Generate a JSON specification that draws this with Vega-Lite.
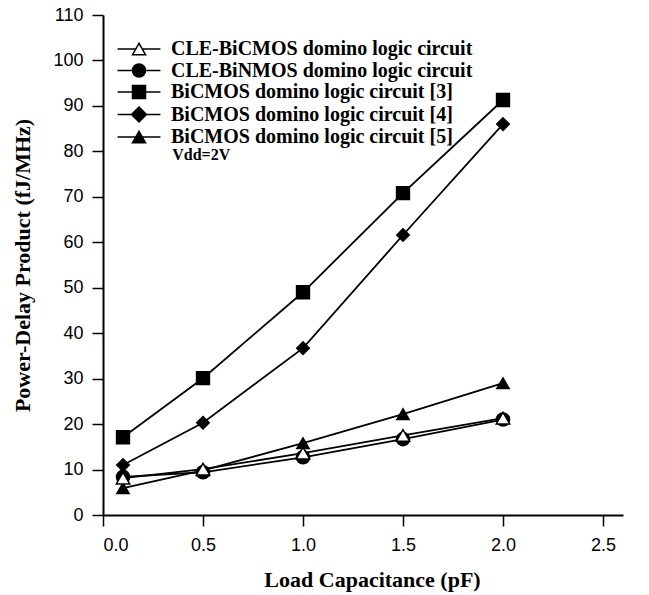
{
  "$schema": "https://vega.github.io/schema/vega-lite/v6.json",
  "width": 520,
  "height": 500,
  "autosize": {"type": "none"},
  "padding": {"left": 103, "top": 15, "right": 26, "bottom": 80},
  "background": "white",
  "config": {
    "view": {"stroke": null},
    "axis": {
      "domainColor": "black", "domainWidth": 2,
      "tickColor": "black", "tickWidth": 1.5, "tickSize": 11,
      "labelColor": "black", "labelFont": "Liberation Sans", "labelFontSize": 18,
      "titleFont": "Liberation Serif", "titleFontWeight": "bold", "titleFontSize": 22, "titleColor": "black",
      "grid": false
    },
    "legend": {
      "title": null, "orient": "none", "legendX": 26, "legendY": 24,
      "labelFont": "Liberation Serif", "labelFontWeight": "bold", "labelFontSize": 20, "labelColor": "black",
      "symbolSize": 169, "symbolStrokeWidth": 1.5, "labelOffset": 22, "rowPadding": 1.5,
      "padding": 0, "symbolOpacity": 1, "labelLimit": 400
    }
  },
  "datasets": {
    "pts": [
      {"series": "BiCMOS domino logic circuit [3]", "x": 0.1, "y": 17.1},
      {"series": "BiCMOS domino logic circuit [3]", "x": 0.5, "y": 30.1},
      {"series": "BiCMOS domino logic circuit [3]", "x": 1.0, "y": 49.0},
      {"series": "BiCMOS domino logic circuit [3]", "x": 1.5, "y": 70.8},
      {"series": "BiCMOS domino logic circuit [3]", "x": 2.0, "y": 91.3},
      {"series": "BiCMOS domino logic circuit [4]", "x": 0.1, "y": 11.0},
      {"series": "BiCMOS domino logic circuit [4]", "x": 0.5, "y": 20.3},
      {"series": "BiCMOS domino logic circuit [4]", "x": 1.0, "y": 36.7},
      {"series": "BiCMOS domino logic circuit [4]", "x": 1.5, "y": 61.6},
      {"series": "BiCMOS domino logic circuit [4]", "x": 2.0, "y": 86.0},
      {"series": "BiCMOS domino logic circuit [5]", "x": 0.1, "y": 5.9},
      {"series": "BiCMOS domino logic circuit [5]", "x": 0.5, "y": 9.8},
      {"series": "BiCMOS domino logic circuit [5]", "x": 1.0, "y": 15.8},
      {"series": "BiCMOS domino logic circuit [5]", "x": 1.5, "y": 22.2},
      {"series": "BiCMOS domino logic circuit [5]", "x": 2.0, "y": 29.0},
      {"series": "CLE-BiNMOS domino logic circuit", "x": 0.1, "y": 8.4},
      {"series": "CLE-BiNMOS domino logic circuit", "x": 0.5, "y": 9.4},
      {"series": "CLE-BiNMOS domino logic circuit", "x": 1.0, "y": 12.7},
      {"series": "CLE-BiNMOS domino logic circuit", "x": 1.5, "y": 16.7},
      {"series": "CLE-BiNMOS domino logic circuit", "x": 2.0, "y": 21.0},
      {"series": "CLE-BiCMOS domino logic circuit", "x": 0.1, "y": 8.1},
      {"series": "CLE-BiCMOS domino logic circuit", "x": 0.5, "y": 10.1},
      {"series": "CLE-BiCMOS domino logic circuit", "x": 1.0, "y": 13.6},
      {"series": "CLE-BiCMOS domino logic circuit", "x": 1.5, "y": 17.5},
      {"series": "CLE-BiCMOS domino logic circuit", "x": 2.0, "y": 21.3}
    ],
    "notes": [{"x": 0.346, "y": 79.2, "label": "Vdd=2V"}]
  },
  "layer": [
    {
      "data": {"name": "pts"},
      "mark": {"type": "line", "color": "black", "strokeWidth": 1.8},
      "encoding": {
        "x": {"field": "x", "type": "quantitative", "scale": {"domain": [0, 2.5]},
              "axis": {"values": [0, 0.5, 1, 1.5, 2, 2.5], "format": ".1f", "title": "Load Capacitance (pF)", "labelPadding": 10, "titleX": 269, "titleY": 64, "titleBaseline": "middle"}},
        "y": {"field": "y", "type": "quantitative", "scale": {"domain": [0, 110]},
              "axis": {"values": [0, 10, 20, 30, 40, 50, 60, 70, 80, 90, 100, 110], "title": "Power-Delay Product (fJ/MHz)", "labelPadding": 9, "titleX": -81, "titleY": 250, "titleAngle": -90, "titleBaseline": "middle", "titleAlign": "center"}},
        "detail": {"field": "series"},
        "order": {"field": "x", "type": "quantitative"}
      }
    },
    {
      "data": {"name": "pts"},
      "mark": {"type": "point", "filled": true, "stroke": "black", "strokeWidth": 1.5, "opacity": 1},
      "encoding": {
        "x": {"field": "x", "type": "quantitative"},
        "y": {"field": "y", "type": "quantitative"},
        "shape": {"field": "series", "scale": {"domain": ["CLE-BiCMOS domino logic circuit", "CLE-BiNMOS domino logic circuit", "BiCMOS domino logic circuit [3]", "BiCMOS domino logic circuit [4]", "BiCMOS domino logic circuit [5]"], "range": ["triangle-up", "circle", "square", "diamond", "triangle-up"]}, "legend": null},
        "fill": {"field": "series", "scale": {"domain": ["CLE-BiCMOS domino logic circuit", "CLE-BiNMOS domino logic circuit", "BiCMOS domino logic circuit [3]", "BiCMOS domino logic circuit [4]", "BiCMOS domino logic circuit [5]"], "range": ["white", "black", "black", "black", "black"]}, "legend": null},
        "size": {"field": "series", "scale": {"domain": ["CLE-BiCMOS domino logic circuit", "CLE-BiNMOS domino logic circuit", "BiCMOS domino logic circuit [3]", "BiCMOS domino logic circuit [4]", "BiCMOS domino logic circuit [5]"], "range": [180, 150, 160, 225, 180]}, "legend": null}
      }
    },
    {
      "data": {"name": "pts"},
      "transform": [{"filter": "datum.x > 100"}],
      "mark": {"type": "point", "filled": true, "strokeWidth": 1.5},
      "encoding": {
        "x": {"field": "x", "type": "quantitative"},
        "y": {"field": "y", "type": "quantitative"},
        "shape": {"field": "series",
                  "scale": {"domain": ["CLE-BiCMOS domino logic circuit", "CLE-BiNMOS domino logic circuit", "BiCMOS domino logic circuit [3]", "BiCMOS domino logic circuit [4]", "BiCMOS domino logic circuit [5]"],
                            "range": ["M-3.3,0H-0.5M0.5,0H3.3M0,-0.866L-1,0.866L1,0.866Z", "M-3.3,0H3.3M1,0A1,1,0,1,1,-1,0A1,1,0,1,1,1,0Z", "M-3.3,0H3.3M-1,-1H1V1H-1Z", "M-3.3,0H3.3M-1.15,0L0,-1.15L1.15,0L0,1.15Z", "M-3.3,0H3.3M0,-0.866L-1,0.866L1,0.866Z"]}},
        "fill": {"field": "series",
                 "scale": {"domain": ["CLE-BiCMOS domino logic circuit", "CLE-BiNMOS domino logic circuit", "BiCMOS domino logic circuit [3]", "BiCMOS domino logic circuit [4]", "BiCMOS domino logic circuit [5]"], "range": ["white", "black", "black", "black", "black"]}},
        "stroke": {"field": "series",
                 "scale": {"domain": ["CLE-BiCMOS domino logic circuit", "CLE-BiNMOS domino logic circuit", "BiCMOS domino logic circuit [3]", "BiCMOS domino logic circuit [4]", "BiCMOS domino logic circuit [5]"], "range": ["black", "black", "black", "black", "black"]}}
      }
    },
    {
      "data": {"name": "notes"},
      "mark": {"type": "text", "align": "left", "baseline": "middle", "font": "Liberation Serif", "fontWeight": "bold", "fontSize": 16, "color": "black"},
      "encoding": {
        "x": {"field": "x", "type": "quantitative"},
        "y": {"field": "y", "type": "quantitative"},
        "text": {"field": "label"}
      }
    }
  ],
  "resolve": {"scale": {"shape": "independent", "fill": "independent", "size": "independent", "stroke": "independent"}}
}
